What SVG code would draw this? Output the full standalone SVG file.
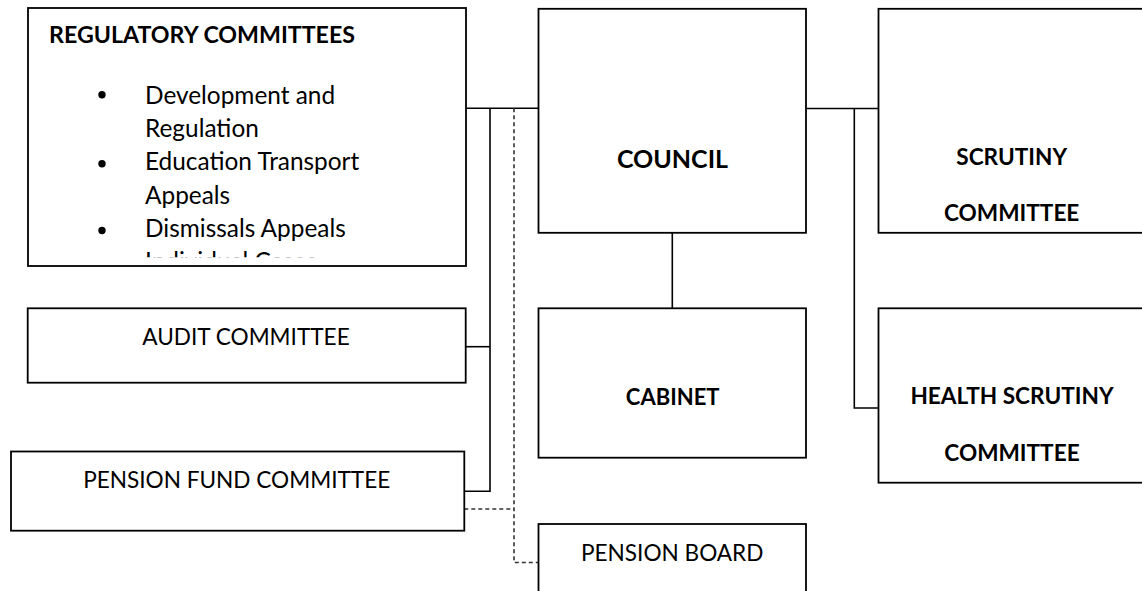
<svg xmlns="http://www.w3.org/2000/svg" width="1142" height="591" viewBox="0 0 1142 591">
<style>
.box{fill:#fff;stroke:#000;stroke-width:1.8}
.ln{fill:none;stroke:#000;stroke-width:1.6}
.dash{fill:none;stroke:#333;stroke-width:1.6;stroke-dasharray:4 3}
.t{font-family:Lato,"Liberation Sans",sans-serif;font-size:22.6px;fill:#000}
.li{font-size:24.4px}
.b{font-family:Lato,"Liberation Sans",sans-serif;font-weight:bold;font-size:22.6px;fill:#000}
.c{text-anchor:middle}
</style>
<defs>
<clipPath id="regclip"><rect x="28" y="8" width="438" height="249.3"/></clipPath>
</defs>
<rect width="1142" height="591" fill="#fff"/>
<g id="connectors">
<path class="ln" d="M466 108.3H538.5"/>
<path class="ln" d="M490 108.3V491.3H464.3"/>
<path class="ln" d="M465.7 346.7H490"/>
<path class="dash" d="M514 108.3V562.5H538.5"/>
<path class="dash" d="M464.3 509H514"/>
<path class="ln" d="M672.3 232.7V308.3"/>
<path class="ln" d="M806 108.5H878.5"/>
<path class="ln" d="M854.3 108.5V408H878.5"/>
</g>
<g id="regulatory">
<rect class="box" x="28" y="8" width="438" height="258"/>
<text class="b" x="49" y="43" style="font-size:23.2px">REGULATORY COMMITTEES</text>
<g clip-path="url(#regclip)">
<circle cx="102" cy="94.8" r="3.7"/>
<circle cx="102" cy="163.8" r="3.7"/>
<circle cx="102" cy="230.5" r="3.7"/>
<text class="t li" x="145" y="103.5">Development and</text>
<text class="t li" x="145" y="136.8">Regulation</text>
<text class="t li" x="145" y="170.3">Education Transport</text>
<text class="t li" x="145" y="203.6">Appeals</text>
<text class="t li" x="145" y="236.9">Dismissals Appeals</text>
<text class="t li" x="145" y="270.2">Individual Cases</text>
</g>
</g>
<g id="audit">
<rect class="box" x="27.7" y="308.3" width="438" height="74.4"/>
<text class="t c" x="246" y="345">AUDIT COMMITTEE</text>
</g>
<g id="pension-fund">
<rect class="box" x="11" y="451.5" width="453.3" height="79.2"/>
<text class="t c" x="236.7" y="488.3">PENSION FUND COMMITTEE</text>
</g>
<g id="council">
<rect class="box" x="538.5" y="8.8" width="267.5" height="224"/>
<text class="b c" x="672.5" y="167.7" style="font-size:25px">COUNCIL</text>
</g>
<g id="cabinet">
<rect class="box" x="538.5" y="308.3" width="267.5" height="149.4"/>
<text class="b c" x="672.7" y="405" style="font-size:22px">CABINET</text>
</g>
<g id="pension-board">
<rect class="box" x="538.5" y="524" width="267.5" height="80"/>
<text class="t c" x="672.2" y="560.7">PENSION BOARD</text>
</g>
<g id="scrutiny">
<rect class="box" x="878.5" y="8.8" width="267.5" height="224"/>
<text class="b c" x="1011.7" y="165">SCRUTINY</text>
<text class="b c" x="1011.7" y="220.7">COMMITTEE</text>
</g>
<g id="health-scrutiny">
<rect class="box" x="878.5" y="308.3" width="267.5" height="174.4"/>
<text class="b c" x="1012" y="404.3">HEALTH SCRUTINY</text>
<text class="b c" x="1012" y="461">COMMITTEE</text>
</g>
</svg>
